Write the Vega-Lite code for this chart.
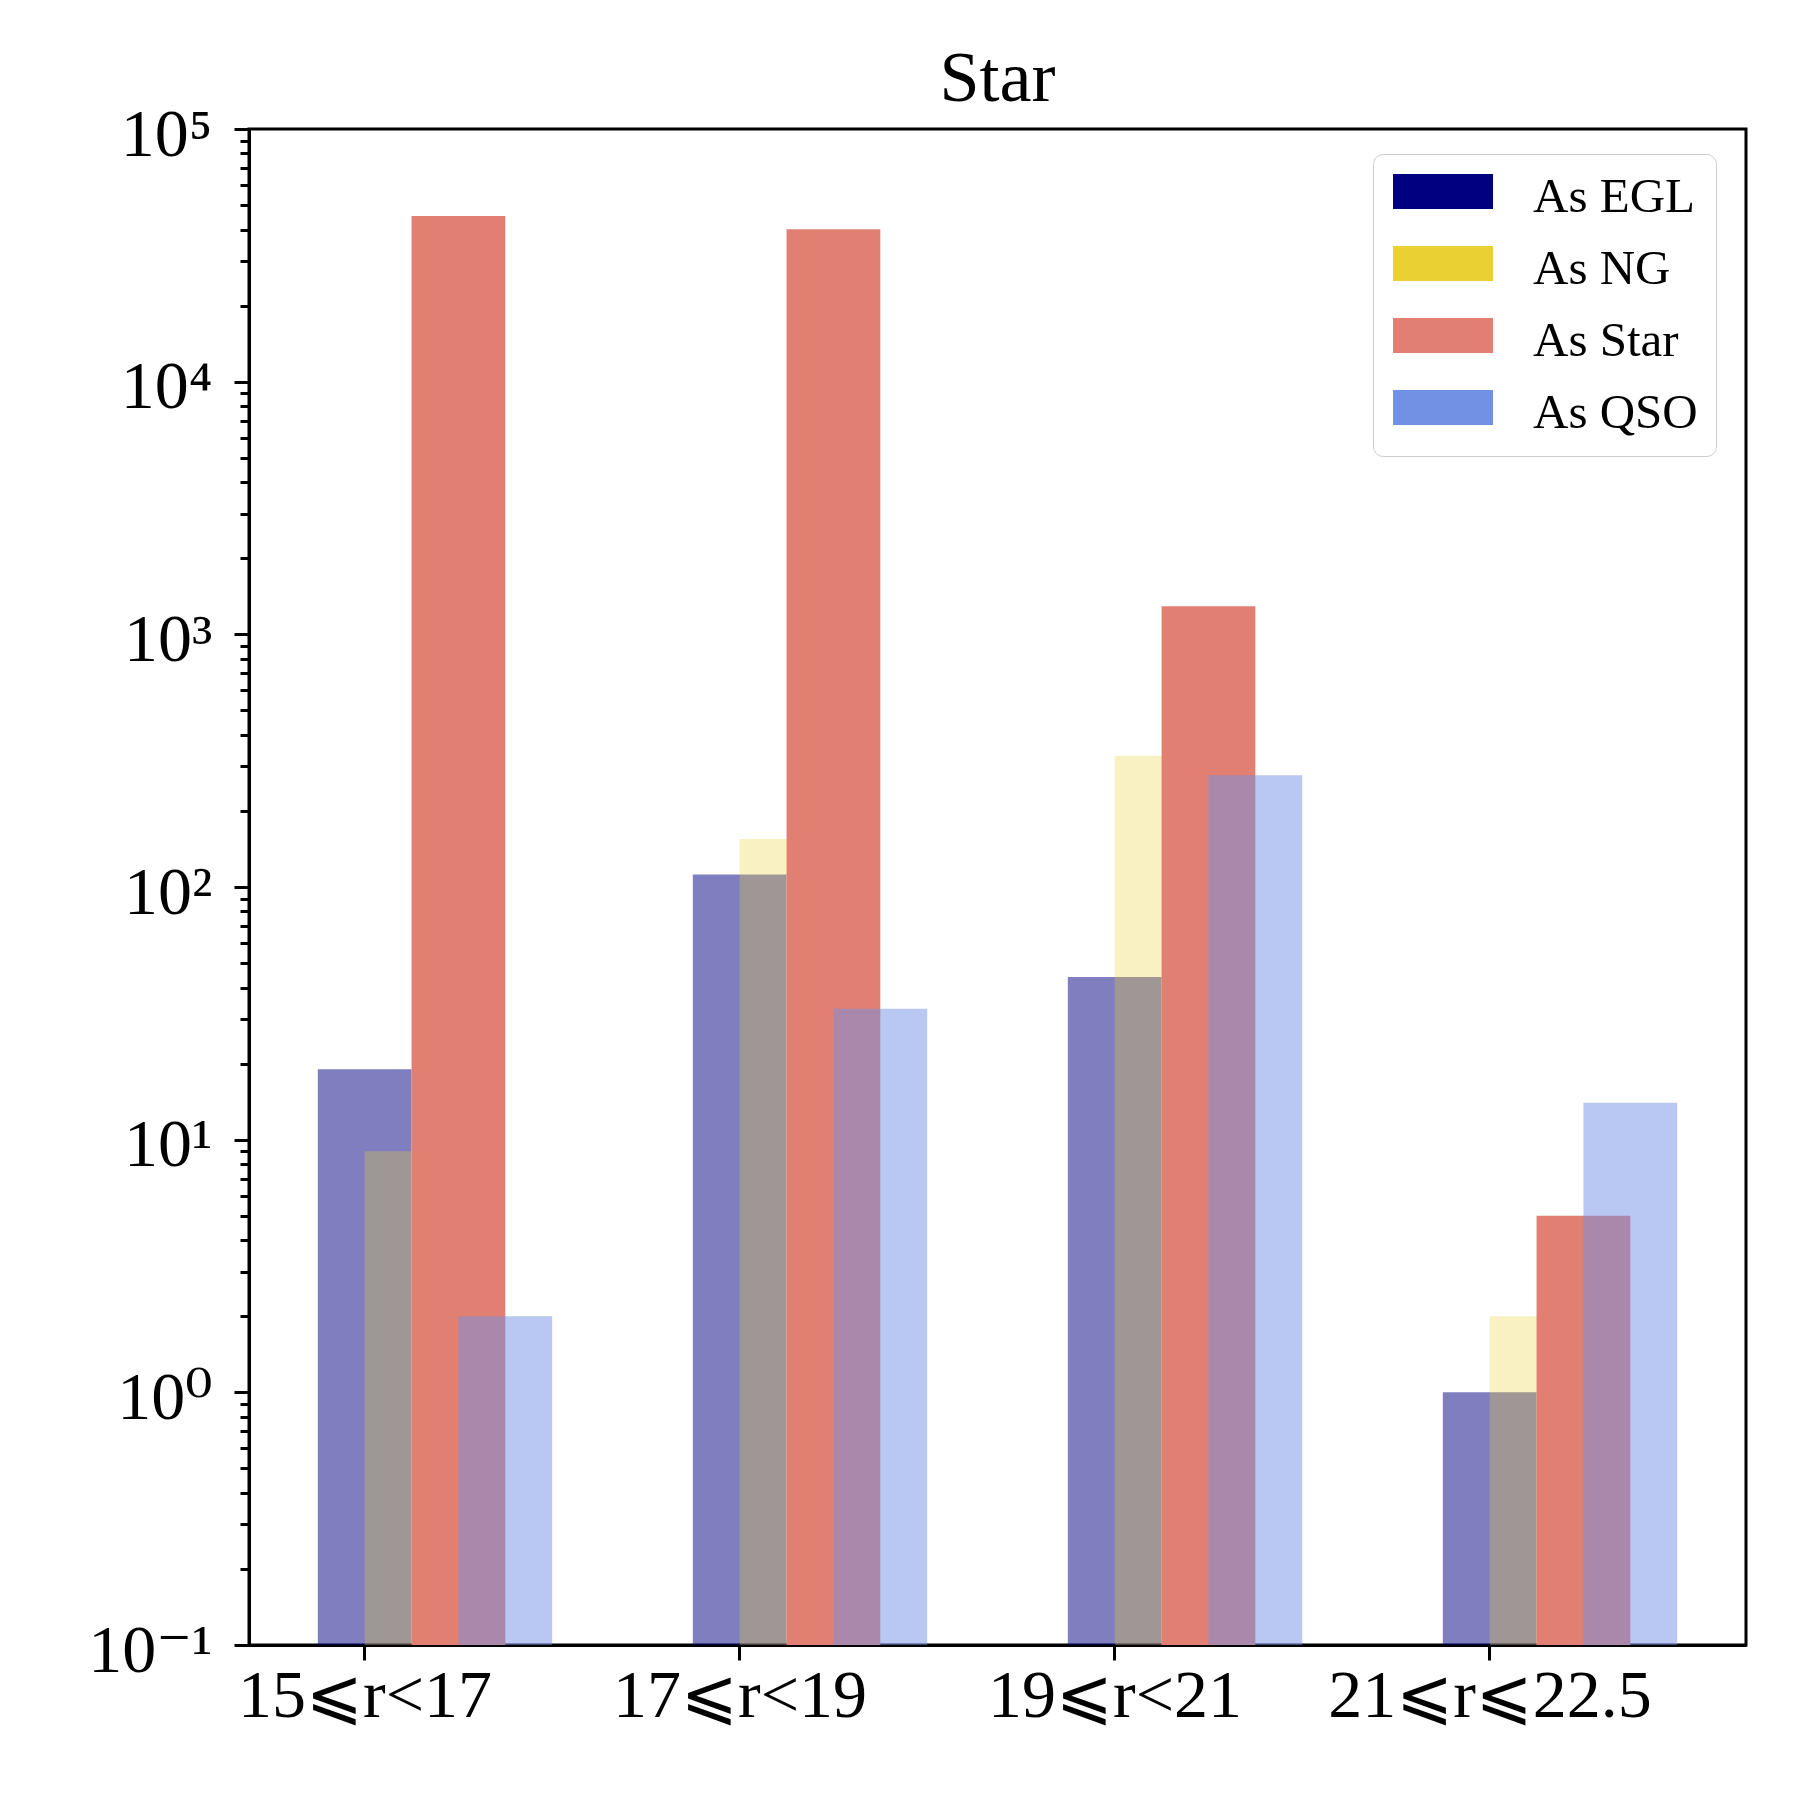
{
  "$schema": "https://vega.github.io/schema/vega-lite/v6.json",
  "autosize": "none",
  "width": 1497,
  "height": 1516,
  "padding": {"left": 249, "top": 129, "right": 54, "bottom": 155},
  "background": "white",
  "title": {
    "text": "Star",
    "font": "Liberation Serif",
    "fontSize": 72,
    "fontWeight": "normal",
    "color": "black",
    "anchor": "middle",
    "frame": "group",
    "baseline": "alphabetic",
    "offset": 24,
    "dy": 96
  },
  "data": {
    "values": [
      {"range": "15⩽r<17", "type": "As EGL", "count": 19},
      {"range": "17⩽r<19", "type": "As EGL", "count": 112},
      {"range": "19⩽r<21", "type": "As EGL", "count": 44},
      {"range": "21⩽r⩽22.5", "type": "As EGL", "count": 1},
      {"range": "15⩽r<17", "type": "As NG", "count": 9},
      {"range": "17⩽r<19", "type": "As NG", "count": 155},
      {"range": "19⩽r<21", "type": "As NG", "count": 331},
      {"range": "21⩽r⩽22.5", "type": "As NG", "count": 2},
      {"range": "15⩽r<17", "type": "As Star", "count": 45300},
      {"range": "17⩽r<19", "type": "As Star", "count": 40100},
      {"range": "19⩽r<21", "type": "As Star", "count": 1291},
      {"range": "21⩽r⩽22.5", "type": "As Star", "count": 5},
      {"range": "15⩽r<17", "type": "As QSO", "count": 2},
      {"range": "17⩽r<19", "type": "As QSO", "count": 33},
      {"range": "19⩽r<21", "type": "As QSO", "count": 277},
      {"range": "21⩽r⩽22.5", "type": "As QSO", "count": 14}
    ]
  },
  "mark": {"type": "bar", "width": 93.75},
  "encoding": {
    "x": {
      "field": "range",
      "type": "nominal",
      "sort": null,
      "scale": {"paddingInner": 0.5, "paddingOuter": 0.246},
      "axis": {
        "title": null,
        "labelAngle": 0,
        "labelLimit": 500,
        "bandPosition": 0.125,
        "labelOffset": -70,
        "labelPadding": 2,
        "tickSize": 15
      }
    },
    "xOffset": {
      "field": "type",
      "sort": ["As EGL", "As NG", "As Star", "As QSO"],
      "scale": {"paddingInner": 0, "paddingOuter": 0}
    },
    "y": {
      "field": "count",
      "type": "quantitative",
      "stack": null,
      "scale": {"type": "log", "domain": [0.1, 100000], "nice": false},
      "axis": {
        "title": null,
        "grid": false,
        "labelFlush": false,
        "labelOverlap": false,
        "labelPadding": 22,
        "labelOffset": 6,
        "values": [0.1, 0.2, 0.3, 0.4, 0.5, 0.6, 0.7, 0.8, 0.9,
                   1, 2, 3, 4, 5, 6, 7, 8, 9,
                   10, 20, 30, 40, 50, 60, 70, 80, 90,
                   100, 200, 300, 400, 500, 600, 700, 800, 900,
                   1000, 2000, 3000, 4000, 5000, 6000, 7000, 8000, 9000,
                   10000, 20000, 30000, 40000, 50000, 60000, 70000, 80000, 90000,
                   100000],
        "labelExpr": "datum.value == 100000 ? '10⁵' : datum.value == 10000 ? '10⁴' : datum.value == 1000 ? '10³' : datum.value == 100 ? '10²' : datum.value == 10 ? '10¹' : datum.value == 1 ? '10⁰' : datum.value == 0.1 ? '10⁻¹' : ''",
        "tickSize": {
          "condition": {"test": "indexof([0.1, 1, 10, 100, 1000, 10000, 100000], datum.value) >= 0", "value": 15},
          "value": 9
        }
      }
    },
    "color": {
      "field": "type",
      "type": "nominal",
      "sort": ["As EGL", "As NG", "As Star", "As QSO"],
      "scale": {
        "domain": ["As EGL", "As NG", "As Star", "As QSO"],
        "range": ["#000080", "#ebd034", "#e07f72", "#7191e5"]
      },
      "legend": {
        "title": null,
        "orient": "none",
        "legendX": 1124,
        "legendY": 25,
        "padding": 18,
        "rowPadding": 22,
        "symbolType": "M-0.92,-0.92H3.08V0.48H-0.92Z",
        "symbolSize": 2500,
        "symbolStrokeWidth": 0,
        "labelOffset": 92,
        "labelFont": "Liberation Serif",
        "labelFontSize": 49,
        "labelColor": "black",
        "labelLimit": 400,
        "strokeColor": "#cccccc",
        "cornerRadius": 10,
        "fillColor": "white",
        "encode": {
          "legend": {"strokeWidth": {"value": 4}},
          "symbols": {
            "fill": {
              "condition": [
                {"test": "datum.value == 'As EGL'", "value": "#8080bf"},
                {"test": "datum.value == 'As NG'", "value": "#f9f1c2"},
                {"test": "datum.value == 'As Star'", "value": "#e07f72"}
              ],
              "value": "#b8c8f2"
            },
            "opacity": {"value": 1}
          },
          "labels": {"dy": {"value": -6}}
        }
      }
    },
    "opacity": {
      "condition": [
        {"test": "datum.type == 'As Star'", "value": 1},
        {"test": "datum.type == 'As NG'", "value": 0.3}
      ],
      "value": 0.5
    }
  },
  "config": {
    "view": {"stroke": "black", "strokeWidth": 3},
    "axis": {
      "domainColor": "black",
      "domainWidth": 3,
      "tickColor": "black",
      "tickWidth": 3,
      "labelFont": "Liberation Serif, DejaVu Serif, DejaVu Sans",
      "labelFontSize": 68,
      "labelColor": "black"
    }
  }
}
